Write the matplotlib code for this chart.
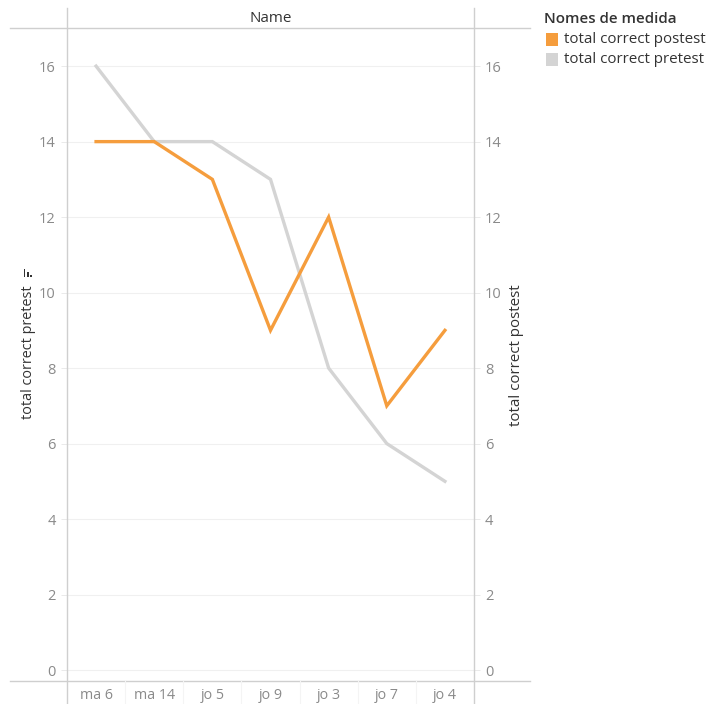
import matplotlib
matplotlib.use("Agg")
import matplotlib.pyplot as plt
from matplotlib.lines import Line2D
from matplotlib.patches import Rectangle

names = ["ma 6", "ma 14", "jo 5", "jo 9", "jo 3", "jo 7", "jo 4"]
postest = [14, 14, 13, 9, 12, 7, 9]
pretest = [16, 14, 14, 13, 8, 6, 5]
yticks = [0, 2, 4, 6, 8, 10, 12, 14, 16]

ORANGE = "#F59D3D"
GREY = "#D4D4D4"
TICK = "#8A8A8A"
TEXT = "#333333"
RULE = "#CFCFCF"

plt.rcParams["font.family"] = ["Open Sans", "DejaVu Sans"]

W, H = 708, 704
fig = plt.figure(figsize=(W / 100, H / 100), dpi=100)

def fx(px):
    return px / W

def fy(py):
    return 1 - py / H

x0, x1, y0, y1 = 67, 474, 28, 681
ax = fig.add_axes([fx(x0), fy(y1), fx(x1) - fx(x0), fy(y0) - fy(y1)])
ax2 = ax.twinx()

xs = [i + 0.5 for i in range(len(names))]
ax.plot(xs, pretest, color=GREY, lw=2.4, solid_joinstyle="miter", zorder=3)
ax2.plot(xs, postest, color=ORANGE, lw=2.4, solid_joinstyle="miter", zorder=3)

for a in (ax, ax2):
    a.set_xlim(0, len(names))
    a.set_ylim(-0.29, 17.01)
    a.set_yticks(yticks)
    for s in a.spines.values():
        s.set_visible(False)

ax.set_xticks(xs)
ax.set_xticklabels(names)
ax.tick_params(axis="x", length=0, pad=5, labelsize=10.3, labelcolor=TICK)
ax.tick_params(axis="y", length=4, width=0.6, color="#E6E6E6", pad=4,
               labelsize=10.5, labelcolor=TICK)
ax2.tick_params(axis="y", length=4, width=0.6, color="#E6E6E6", pad=4,
                labelsize=10.5, labelcolor=TICK)
ax.yaxis.grid(True, color="#F0F0F0", lw=0.8)
ax.set_axisbelow(True)

fig.text(fx(28.5), fy(352), "total correct pretest", rotation=90,
         ha="center", va="center", fontsize=10.4, color=TEXT)
fig.text(fx(517), fy(355), "total correct postest", rotation=90,
         ha="center", va="center", fontsize=10.9, color=TEXT)

# frame rules of the view
fig.add_artist(Line2D([fx(10), fx(530)], [fy(y0), fy(y0)], color=RULE, lw=1))
fig.add_artist(Line2D([fx(10), fx(530)], [fy(y1), fy(y1)], color=RULE, lw=1))
fig.add_artist(Line2D([fx(x0), fx(x0)], [fy(8), 0], color=RULE, lw=1))
fig.add_artist(Line2D([fx(x1), fx(x1)], [fy(8), 0], color=RULE, lw=1))
# faint separators between category labels
for i in range(1, len(names)):
    xp = x0 + (x1 - x0) * i / len(names)
    fig.add_artist(Line2D([fx(xp), fx(xp)], [fy(y1), 0], color="#F4F4F4", lw=0.8))

fig.text(fx((x0 + x1) / 2), fy(18), "Name", ha="center", va="center",
         fontsize=10.9, color=TEXT)

# small sort glyph above the left axis title
for xp, h in [(23.5, 8), (27.0, 5), (30.3, 2)]:
    fig.add_artist(Rectangle((fx(xp), fy(276.5)), fx(1.7), h / H,
                             color=TEXT, lw=0))

# legend
fig.text(fx(544), fy(19), "Nomes de medida", ha="left", va="center",
         fontsize=10.9, color=TEXT, fontweight="semibold")
for row, (lbl, col) in enumerate([("total correct postest", ORANGE),
                                  ("total correct pretest", GREY)]):
    yc = 39.5 + row * 20
    fig.add_artist(Rectangle((fx(546), fy(yc + 6)), fx(12), 12 / H,
                             color=col, lw=0))
    fig.text(fx(564), fy(yc), lbl, ha="left", va="center",
             fontsize=10.9, color=TEXT)

fig.savefig("out.png", dpi=100)
